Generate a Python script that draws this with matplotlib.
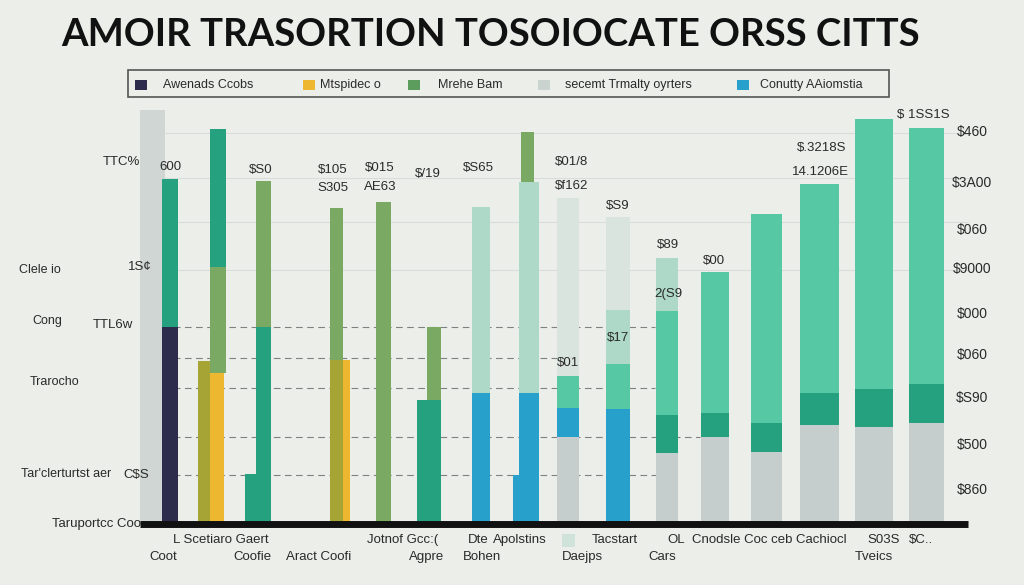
import matplotlib
matplotlib.use("Agg")
import matplotlib.pyplot as plt
from matplotlib.patches import Rectangle

# ---------------------------------------------------------------------------
# Data (values are bar heights above the baseline)
# ---------------------------------------------------------------------------

# each bar: left edge, right edge, bottom, cumulative segment tops
bar_left = [140, 162, 198, 210, 210, 245, 256, 330, 343, 376, 417, 427,
            472, 513, 519, 521, 557, 606, 656, 701, 751, 800, 855, 909]
bar_right = [165, 178, 210, 224, 226, 256, 271, 343, 350, 391, 441, 441,
             490, 520, 539, 534, 579, 630, 678, 729, 782, 839, 893, 944]
bar_bottom = [0, 0, 0, 0, 149, 0, 0, 0, 0, 0, 0, 122,
              0, 0, 0, 340, 0, 0, 0, 0, 0, 0, 0, 0]
bar_tops = [
    [412],
    [195, 343],
    [161],
    [161],
    [255, 393],
    [48],
    [195, 341],
    [162, 314],
    [162],
    [320],
    [122],
    [195],
    [129, 315],
    [47],
    [129, 340],
    [390],
    [85, 114, 146, 324],
    [113, 158, 212, 305],
    [69, 107, 211, 264],
    [85, 109, 250],
    [70, 99, 308],
    [97, 129, 338],
    [95, 133, 403],
    [99, 138, 394],
]

NAVY = "#2e2c4c"
TEAL = "#25a17f"
LEAF = "#79a963"
OLIVE = "#a6a434"
YELLOW = "#edb830"
BLUE = "#27a0cb"
MINT = "#56c9a4"
MINT_L = "#aed9c9"
PALE = "#d9e4de"
GRAY = "#c6cecd"
BACK = "#cfd6d4"

bar_colors = [
    [BACK],
    [NAVY, TEAL],
    [OLIVE],
    [YELLOW],
    [LEAF, TEAL],
    [TEAL],
    [TEAL, LEAF],
    [OLIVE, LEAF],
    [YELLOW],
    [LEAF],
    [TEAL],
    [LEAF],
    [BLUE, MINT_L],
    [BLUE],
    [BLUE, MINT_L],
    [LEAF],
    [GRAY, BLUE, MINT, PALE],
    [BLUE, MINT, MINT_L, PALE],
    [GRAY, TEAL, MINT, MINT_L],
    [GRAY, TEAL, MINT],
    [GRAY, TEAL, MINT],
    [GRAY, TEAL, MINT],
    [GRAY, TEAL, MINT],
    [GRAY, TEAL, MINT],
]

# annotations above / inside bars: (text, x, y_pixel)
value_labels = [
    ("TTC%", 121, 162), ("600", 170, 167), ("$S0", 261, 170),
    ("$105", 333, 170), ("S305", 333, 188), ("$015", 380, 168),
    ("AE63", 380, 187), ("$/19", 428, 174), ("$S65", 478, 168),
    ("$01/8", 572, 162), ("$f162", 572, 186), ("$01", 568, 363),
    ("$S9", 618, 206), ("$17", 618, 338), ("$89", 668, 245),
    ("2(S9", 668, 294), ("$00", 714, 261), ("$.3218S", 822, 148),
    ("14.1206E", 820, 172), ("$ 1SS1S", 923, 115),
    ("1S¢", 140, 267), ("TTL6w", 113, 325), ("C$S", 136, 475),
]

right_ticks = ["$460", "$3A00", "$060", "$9000", "$000", "$060", "$S90", "$500", "$860"]
right_tick_y = [132, 183, 230, 269, 314, 355, 398, 445, 490]

left_labels = ["Clele io", "Cong", "Trarocho", "Tar'clerturtst aer"]
left_label_pos = [(40, 270), (47, 321), (55, 382), (66, 474)]

bottom_labels = [
    ("L Scetiaro Gaert", 173, 540), ("Jotnof Gcc:(", 367, 540),
    ("Dte", 468, 540), ("Apolstins", 493, 540), ("Tacstart", 592, 540),
    ("OL", 667, 540), ("Cnodsle Coc ceb Cachiocl", 692, 540),
    ("S03S", 867, 540), ("$C..", 909, 540),
    ("Coot", 149, 557), ("Coofie", 233, 557), ("Aract Coofi", 286, 557),
    ("Agpre", 409, 557), ("Bohen", 463, 557), ("Daejps", 562, 557),
    ("Cars", 648, 557), ("Tveics", 855, 557),
]

legend_labels = ["Awenads Ccobs", "Mtspidec o", "Mrehe Bam",
                 "secemt Trmalty oyrters", "Conutty A\u0410iomstia"]
legend_colors = [NAVY, YELLOW, "#5c9c5c", "#c9d3d0", BLUE]
legend_patch_x = [135, 303, 408, 538, 737]
legend_text_x = [163, 320, 438, 565, 760]

TITLE = "AMOIR TRASORTION TOSOIOCATE ORSS CITTS"

BASE_PX = 522          # pixel row of the baseline
BG = "#eceeea"
SANS = ["Liberation Sans", "DejaVu Sans"]
INK = "#2a2a2a"


def Y(py):
    """pixel row -> value above baseline"""
    return BASE_PX - py


# ---------------------------------------------------------------------------
# Figure
# ---------------------------------------------------------------------------

fig = plt.figure(figsize=(10.24, 5.85), dpi=100, facecolor=BG)
ax = fig.add_axes([0, 0, 1, 1])
ax.set_xlim(0, 1024)
ax.set_ylim(Y(585), Y(0))
ax.axis("off")

# grid lines
for py in [133, 178, 222, 270]:
    ax.plot([140, 968], [Y(py), Y(py)], color="#d8ddd9", lw=0.8, zorder=0)
for py, xe in [(327, 655), (358, 560), (388, 655), (437, 700), (475, 660)]:
    ax.plot([140, xe], [Y(py), Y(py)], color="#7d827f", lw=0.8,
            ls=(0, (6, 4)), zorder=0)

# bars
for x0, x1, b, tops, cols in zip(bar_left, bar_right, bar_bottom, bar_tops, bar_colors):
    prev = b
    for top, c in zip(tops, cols):
        ax.bar(x0, top - prev, width=x1 - x0, bottom=prev, align="edge",
               color=c, linewidth=0, zorder=2)
        prev = top

# baseline
ax.plot([140, 968], [Y(524), Y(524)], color="#111111", lw=5,
        solid_capstyle="butt", zorder=3)

for txt, x, py in value_labels:
    ax.text(x, Y(py), txt, ha="center", va="center", fontsize=9.5,
            family=SANS, color=INK, zorder=4)

for txt, py in zip(right_ticks, right_tick_y):
    ax.text(972, Y(py), txt, ha="center", va="center", fontsize=10,
            family=SANS, color=INK)

for txt, (x, py) in zip(left_labels, left_label_pos):
    ax.text(x, Y(py), txt, ha="center", va="center", fontsize=9,
            family=SANS, color=INK)
ax.text(141, Y(524), "Taruportcc Coo", ha="right", va="center", fontsize=9.5,
        family=SANS, color=INK)

for txt, x, py in bottom_labels:
    ax.text(x, Y(py), txt, ha="left", va="center", fontsize=9.5,
            family=SANS, color=INK)
ax.add_patch(Rectangle((562, Y(547)), 13, 13, color="#cfe3da", lw=0))

# legend box
ax.add_patch(Rectangle((128, Y(97)), 761, 27, fill=False, ec="#555555", lw=1.2))
for c, px, tx, lab in zip(legend_colors, legend_patch_x, legend_text_x, legend_labels):
    ax.add_patch(Rectangle((px, Y(90)), 12, 10, color=c, lw=0))
    ax.text(tx, Y(85), lab, ha="left", va="center", fontsize=9,
            family=SANS, color=INK)

ax.text(491, Y(35), TITLE, ha="center", va="center", fontsize=27.5,
        family=["Lato", "DejaVu Sans"], fontweight="bold", color="#111111")

fig.savefig("out.png", dpi=100, facecolor=BG)
